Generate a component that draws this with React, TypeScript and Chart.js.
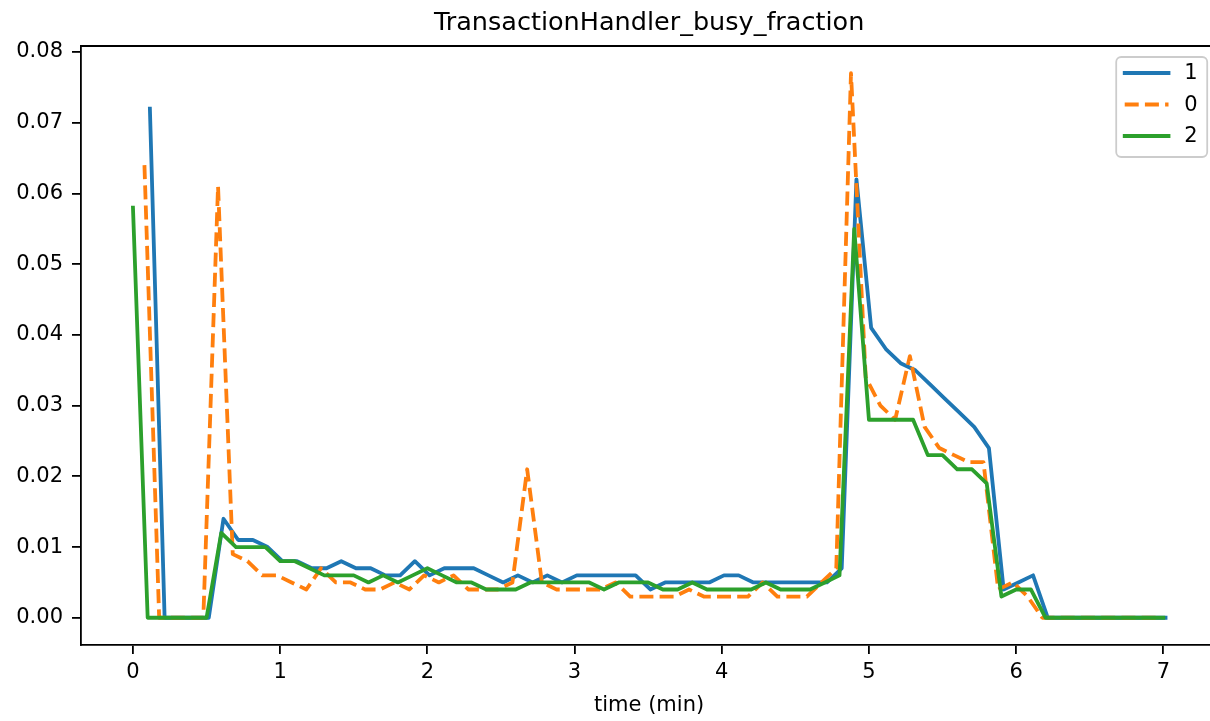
import React, { useEffect, useRef } from "react";
import { Chart, registerables } from "chart.js";

Chart.register(...registerables);

const TITLE = "TransactionHandler_busy_fraction";
const X_LABEL = "time (min)";
const LABELS = ["1", "0", "2"];
const COLORS = ["#1f77b4", "#ff7f0e", "#2ca02c"];

const X_TICKS = [0, 1, 2, 3, 4, 5, 6, 7];
const Y_TICKS = [0, 0.01, 0.02, 0.03, 0.04, 0.05, 0.06, 0.07, 0.08];

// series "1"
const T1 = [
  0.115, 0.215, 0.315, 0.415, 0.515, 0.615, 0.715, 0.815, 0.915, 1.015,
  1.115, 1.215, 1.315, 1.415, 1.515, 1.615, 1.715, 1.815, 1.915, 2.015,
  2.115, 2.215, 2.315, 2.415, 2.515, 2.615, 2.715, 2.815, 2.915, 3.015,
  3.115, 3.215, 3.315, 3.415, 3.515, 3.615, 3.715, 3.815, 3.915, 4.015,
  4.115, 4.215, 4.315, 4.415, 4.515, 4.615, 4.715, 4.815, 4.915, 5.015,
  5.115, 5.215, 5.315, 5.415, 5.515, 5.615, 5.715, 5.815, 5.915, 6.015,
  6.115, 6.215, 6.315, 6.415, 6.515, 6.615, 6.715, 6.815, 6.915, 7.015,
];
const V1 = [
  0.072, 0, 0, 0, 0, 0.014, 0.011, 0.011, 0.010, 0.008,
  0.008, 0.007, 0.007, 0.008, 0.007, 0.007, 0.006, 0.006, 0.008, 0.006,
  0.007, 0.007, 0.007, 0.006, 0.005, 0.006, 0.005, 0.006, 0.005, 0.006,
  0.006, 0.006, 0.006, 0.006, 0.004, 0.005, 0.005, 0.005, 0.005, 0.006,
  0.006, 0.005, 0.005, 0.005, 0.005, 0.005, 0.005, 0.007, 0.062, 0.041,
  0.038, 0.036, 0.035, 0.033, 0.031, 0.029, 0.027, 0.024, 0.004, 0.005,
  0.006, 0, 0, 0, 0, 0, 0, 0, 0, 0,
];

// series "0"
const T0 = [
  0.078, 0.178, 0.278, 0.378, 0.478, 0.578, 0.678, 0.778, 0.878, 0.978,
  1.078, 1.178, 1.278, 1.378, 1.478, 1.578, 1.678, 1.778, 1.878, 1.978,
  2.078, 2.178, 2.278, 2.378, 2.478, 2.578, 2.678, 2.778, 2.878, 2.978,
  3.078, 3.178, 3.278, 3.378, 3.478, 3.578, 3.678, 3.778, 3.878, 3.978,
  4.078, 4.178, 4.278, 4.378, 4.478, 4.578, 4.678, 4.778, 4.878, 4.978,
  5.078, 5.178, 5.278, 5.378, 5.478, 5.578, 5.678, 5.778, 5.878, 5.978,
  6.078, 6.178, 6.278, 6.378, 6.478, 6.578, 6.678, 6.778, 6.878, 6.978,
];
const V0 = [
  0.064, 0, 0, 0, 0, 0.061, 0.009, 0.008, 0.006, 0.006,
  0.005, 0.004, 0.007, 0.005, 0.005, 0.004, 0.004, 0.005, 0.004, 0.006,
  0.005, 0.006, 0.004, 0.004, 0.004, 0.005, 0.021, 0.005, 0.004, 0.004,
  0.004, 0.004, 0.005, 0.003, 0.003, 0.003, 0.003, 0.004, 0.003, 0.003,
  0.003, 0.003, 0.005, 0.003, 0.003, 0.003, 0.005, 0.007, 0.077, 0.034,
  0.030, 0.028, 0.037, 0.027, 0.024, 0.023, 0.022, 0.022, 0.004, 0.005,
  0.003, 0, 0, 0, 0, 0, 0, 0, 0, 0,
];

// series "2"
const T2 = [
  0.0, 0.1, 0.2, 0.3, 0.4, 0.5, 0.6, 0.7, 0.8, 0.9,
  1.0, 1.1, 1.2, 1.3, 1.4, 1.5, 1.6, 1.7, 1.8, 1.9,
  2.0, 2.1, 2.2, 2.3, 2.4, 2.5, 2.6, 2.7, 2.8, 2.9,
  3.0, 3.1, 3.2, 3.3, 3.4, 3.5, 3.6, 3.7, 3.8, 3.9,
  4.0, 4.1, 4.2, 4.3, 4.4, 4.5, 4.6, 4.7, 4.8, 4.9,
  5.0, 5.1, 5.2, 5.3, 5.4, 5.5, 5.6, 5.7, 5.8, 5.9,
  6.0, 6.1, 6.2, 6.3, 6.4, 6.5, 6.6, 6.7, 6.8, 6.9, 7.0,
];
const V2 = [
  0.058, 0, 0, 0, 0, 0, 0.012, 0.010, 0.010, 0.010,
  0.008, 0.008, 0.007, 0.006, 0.006, 0.006, 0.005, 0.006, 0.005, 0.006,
  0.007, 0.006, 0.005, 0.005, 0.004, 0.004, 0.004, 0.005, 0.005, 0.005,
  0.005, 0.005, 0.004, 0.005, 0.005, 0.005, 0.004, 0.004, 0.005, 0.004,
  0.004, 0.004, 0.004, 0.005, 0.004, 0.004, 0.004, 0.005, 0.006, 0.055,
  0.028, 0.028, 0.028, 0.028, 0.023, 0.023, 0.021, 0.021, 0.019, 0.003,
  0.004, 0.004, 0, 0, 0, 0, 0, 0, 0, 0, 0,
];

const X_MIN = -0.353;
const X_MAX_VISIBLE = 7.317;
const X_MAX_FULL = 7.366;
const Y_MIN = -0.00385;
const Y_MAX = 0.08085;

const FONT = "'DejaVu Sans', 'Liberation Sans', sans-serif";
const LINE_W = 3.8;
const DASH = [14, 6.2];
const AXIS_W = 1.8;

const toPoints = (t: number[], v: number[]) => t.map((x, i) => ({ x, y: v[i] }));

const decorPlugin = {
  id: "decor",
  afterDraw(chart: any) {
    const { ctx, chartArea: a, scales } = chart;
    const xs = scales.x;
    const fullRight = xs.getPixelForValue(X_MAX_FULL);
    const cx = (a.left + fullRight) / 2;
    ctx.save();
    // top frame line
    ctx.strokeStyle = "#000";
    ctx.lineWidth = AXIS_W;
    ctx.beginPath();
    ctx.moveTo(a.left - AXIS_W / 2, a.top);
    ctx.lineTo(a.right, a.top);
    ctx.stroke();
    // title
    ctx.fillStyle = "#000";
    ctx.font = `25.5px ${FONT}`;
    ctx.textAlign = "center";
    ctx.textBaseline = "alphabetic";
    ctx.fillText(TITLE, cx, 30);
    // x label
    ctx.font = `21px ${FONT}`;
    ctx.fillText(X_LABEL, cx, 711);
    // legend
    const bw = 91;
    const bh = 100;
    const bx = fullRight - 10 - bw;
    const by = a.top + 11;
    const r = 5;
    ctx.beginPath();
    ctx.moveTo(bx + r, by);
    ctx.lineTo(bx + bw - r, by);
    ctx.arcTo(bx + bw, by, bx + bw, by + r, r);
    ctx.lineTo(bx + bw, by + bh - r);
    ctx.arcTo(bx + bw, by + bh, bx + bw - r, by + bh, r);
    ctx.lineTo(bx + r, by + bh);
    ctx.arcTo(bx, by + bh, bx, by + bh - r, r);
    ctx.lineTo(bx, by + r);
    ctx.arcTo(bx, by, bx + r, by, r);
    ctx.closePath();
    ctx.fillStyle = "rgba(255,255,255,0.8)";
    ctx.fill();
    ctx.strokeStyle = "#cccccc";
    ctx.lineWidth = 1.8;
    ctx.stroke();
    const rowsY = [by + 16, by + 47.5, by + 79];
    LABELS.forEach((lab, i) => {
      const y = rowsY[i];
      ctx.strokeStyle = COLORS[i];
      ctx.lineWidth = LINE_W;
      if (i === 1) {
        ctx.setLineDash(DASH);
        ctx.lineCap = "butt";
      } else {
        ctx.setLineDash([]);
        ctx.lineCap = "square";
      }
      ctx.beginPath();
      ctx.moveTo(bx + 8.5, y);
      ctx.lineTo(bx + 52.3, y);
      ctx.stroke();
      ctx.setLineDash([]);
      ctx.fillStyle = "#000";
      ctx.font = `21px ${FONT}`;
      ctx.textAlign = "left";
      ctx.textBaseline = "middle";
      ctx.fillText(lab, bx + 68, y + 1);
    });
    ctx.restore();
  },
};

export default function App() {
  const ref = useRef<HTMLCanvasElement>(null);
  useEffect(() => {
    const canvas = ref.current;
    if (!canvas) return;
    const series = [
      { t: T1, v: V1 },
      { t: T0, v: V0 },
      { t: T2, v: V2 },
    ];
    const chart = new Chart(canvas, {
      type: "line",
      data: {
        datasets: series.map((s, i) => ({
          label: LABELS[i],
          data: toPoints(s.t, s.v),
          borderColor: COLORS[i],
          backgroundColor: COLORS[i],
          borderWidth: LINE_W,
          borderDash: i === 1 ? DASH : [],
          borderCapStyle: i === 1 ? "butt" : "square",
          borderJoinStyle: "round",
          pointRadius: 0,
          tension: 0,
          fill: false,
          order: [2, 1, 0][i],
        })),
      },
      options: {
        animation: false,
        responsive: false,
        devicePixelRatio: 1,
        events: [],
        layout: { padding: { left: 0, right: 0, top: 46, bottom: 0 } },
        plugins: {
          legend: { display: false },
          title: { display: false },
          tooltip: { enabled: false },
        },
        scales: {
          x: {
            type: "linear",
            min: X_MIN,
            max: X_MAX_VISIBLE,
            afterBuildTicks: (scale: any) => {
              scale.ticks = X_TICKS.map((value) => ({ value }));
            },
            afterFit: (scale: any) => {
              scale.height = 76;
            },
            grid: {
              drawOnChartArea: false,
              drawTicks: true,
              tickLength: 9,
              color: "#000",
              lineWidth: AXIS_W,
            },
            border: { display: true, color: "#000", width: AXIS_W },
            ticks: {
              color: "#000",
              font: { family: FONT, size: 21 },
              padding: 6,
              maxRotation: 0,
              autoSkip: false,
              callback: (v: any) => String(v),
            },
          },
          y: {
            type: "linear",
            min: Y_MIN,
            max: Y_MAX,
            afterBuildTicks: (scale: any) => {
              scale.ticks = Y_TICKS.map((value) => ({ value }));
            },
            afterFit: (scale: any) => {
              scale.width = 81;
            },
            grid: {
              drawOnChartArea: false,
              drawTicks: true,
              tickLength: 9,
              color: "#000",
              lineWidth: AXIS_W,
            },
            border: { display: true, color: "#000", width: AXIS_W },
            ticks: {
              color: "#000",
              font: { family: FONT, size: 21 },
              padding: 9,
              autoSkip: false,
              callback: (v: any) => Number(v).toFixed(2),
            },
          },
        },
      },
      plugins: [decorPlugin],
    } as any);
    return () => chart.destroy();
  }, []);
  return (
    <div
      style={{
        position: "fixed",
        left: 0,
        top: 0,
        width: 1210,
        height: 721,
        background: "#fff",
        overflow: "hidden",
      }}
    >
      <canvas ref={ref} width={1210} height={721} style={{ display: "block", width: 1210, height: 721 }} />
    </div>
  );
}
